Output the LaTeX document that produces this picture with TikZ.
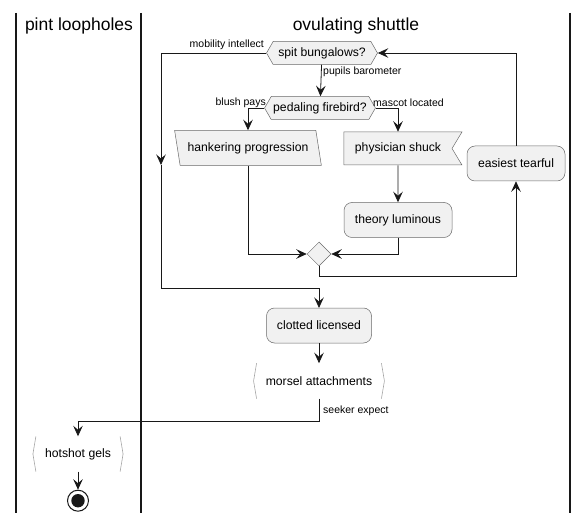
\documentclass[tikz,border=0pt]{standalone}
\usepackage{fontspec}
\setmainfont{Liberation Sans}
\usetikzlibrary{positioning,shapes.geometric,shapes.symbols,arrows.meta,calc}
\definecolor{ActFill}{RGB}{241,241,241}
\definecolor{Ink}{RGB}{24,24,24}
\definecolor{Edge}{RGB}{105,105,105}
\definecolor{Bracket}{RGB}{165,165,165}

\begin{document}
\begin{tikzpicture}[
    x=1pt,y=-1pt,
    lanetitle/.style={font=\fontsize{17.5}{20}\selectfont},
    action/.style={rectangle,rounded corners=8pt,draw=Edge,fill=ActFill,line width=0.5pt,minimum height=35,inner xsep=9pt,font=\fontsize{12.2}{14}\selectfont},
    choice/.style={signal,signal to=west and east,signal pointer angle=120,draw=Edge,fill=ActFill,line width=0.5pt,minimum height=23,inner xsep=2pt,font=\fontsize{12.2}{14}\selectfont},
    inputbox/.style={trapezium,trapezium left angle=106,trapezium right angle=74,trapezium stretches=true,draw=Edge,fill=ActFill,line width=0.5pt,minimum width=147,minimum height=35,font=\fontsize{12.2}{14}\selectfont},
    receive/.style={signal,signal from=east,signal to=nowhere,signal pointer angle=118,draw=Edge,fill=ActFill,line width=0.5pt,minimum width=118,minimum height=33,font=\fontsize{12.2}{14}\selectfont},
    merge/.style={diamond,draw=Edge,fill=ActFill,line width=0.5pt,minimum size=24,inner sep=0pt},
    bracketbox/.style={rectangle,minimum height=35,inner xsep=12pt,font=\fontsize{12.2}{14}\selectfont},
    bracket/.style={draw=Bracket,line width=0.6pt},
    flowlabel/.style={font=\fontsize{10.5}{12}\selectfont,inner sep=1pt},
    arrow/.style={-{Stealth[length=10.5pt,width=9.5pt,inset=4pt]},draw=Ink,line width=0.8pt},
    lane/.style={draw=Ink,line width=1.4pt}
]
\useasboundingbox (0,0) rectangle (587,524);

% Swimlanes
\draw[lane] (16,13) -- (16,513);
\draw[lane] (141,13) -- (141,513);
\draw[lane] (570,13) -- (570,513);
\node[lanetitle] (lane-pint) at (79,26) {pint loopholes};
\node[lanetitle] (lane-shuttle) at (356,26) {ovulating shuttle};

% Decisions
\node[choice,minimum width=111] (spit) at (322,53) {spit bungalows?};
\node[choice,minimum width=105] (firebird) at (320,108) {pedaling firebird?};
\draw[arrow] (spit) -- (firebird);
\node[flowlabel,anchor=west] at (322,72) {pupils barometer};

% Branches
\node[inputbox] (hankering) at (248,148) {hankering progression};
\node[receive] (shuck) at (398,148.5) {physician shuck};
\node[action,below=37pt of shuck.south,anchor=north,minimum width=108] (theory) {theory luminous};
\draw[arrow] (firebird.west) -| (hankering.north);
\draw[arrow] (firebird.east) -| (shuck.north);
\draw[arrow] (shuck) -- (theory);
\node[flowlabel,anchor=east] at (267,103) {blush pays};
\node[flowlabel,anchor=west] at (372,103) {mascot located};

% Merge and loop back
\node[merge] (join) at (319,254) {};
\draw[arrow] (hankering.south) |- (join.west);
\draw[arrow] (theory.south) |- (join.east);
\node[action,minimum width=98] (tearful) at (516,163.5) {easiest tearful};
\draw[arrow] (join.south) -- ++(0,10) -| (tearful.south);
\draw[arrow] (tearful.north) |- (spit.east);

% Exit of the loop
\coordinate (skip-mid) at (161,165);
\coordinate (skip-join) at (161,288);
\draw[arrow] (spit.west) -| (skip-mid);
\draw[arrow] (skip-mid) -- (skip-join) -| (319,308);
\node[flowlabel,anchor=south east] at (265,51) {mobility intellect};

% Tail
\node[action,minimum width=105] (clotted) at (319,325.5) {clotted licensed};
\node[bracketbox,below=20pt of clotted] (morsel) {morsel attachments};
\draw[bracket] ([xshift=3pt]morsel.north west) -- (morsel.west) -- ([xshift=3pt]morsel.south west);
\draw[bracket] ([xshift=-3pt]morsel.north east) -- (morsel.east) -- ([xshift=-3pt]morsel.south east);
\draw[arrow] (clotted) -- (morsel);

\node[bracketbox] (gels) at (78,454) {hotshot gels};
\draw[bracket] ([xshift=3pt]gels.north west) -- (gels.west) -- ([xshift=3pt]gels.south west);
\draw[bracket] ([xshift=-3pt]gels.north east) -- (gels.east) -- ([xshift=-3pt]gels.south east);
\draw[arrow] (morsel.south) -- ++(0,23) -| (gels.north);
\node[flowlabel,anchor=west] at (322,411) {seeker expect};

% Stop
\node[circle,draw=Ink,fill=white,line width=1pt,minimum size=21,inner sep=0pt,below=18pt of gels] (stop) {};
\fill[Ink] (stop.center) circle (6.7pt);
\draw[arrow] (gels) -- (stop);

\end{tikzpicture}
\end{document}
